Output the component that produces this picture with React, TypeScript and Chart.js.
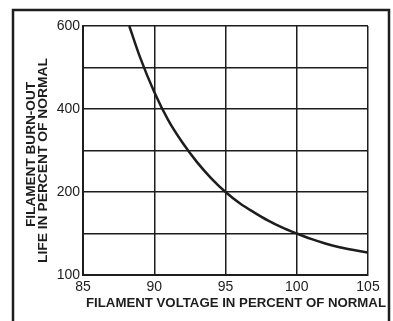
import React, { useEffect, useRef } from "react";
import { Chart, registerables } from "chart.js";

Chart.register(...registerables);

// Filament voltage (percent of normal) vs burn-out life (percent of normal)
const voltage = [88.25, 89, 90, 91, 92, 93, 94, 95, 96, 97, 98, 99, 100, 101, 102, 103, 104, 105];
const life = [600, 525, 441, 372, 318, 272, 233, 200, 173, 151, 131, 114, 100, 87, 76, 67, 60, 54];

const xTickValues = [85, 90, 95, 100, 105];
const yTickValues = [0, 200, 400, 600];
const yTickTexts = ["100", "200", "400", "600"];

const xTitle = "FILAMENT VOLTAGE IN PERCENT OF NORMAL";
const yTitleLines = ["FILAMENT BURN-OUT", "LIFE IN PERCENT OF NORMAL"];

const INK = "#1d1d1d";

function drawStretched(ctx: CanvasRenderingContext2D, text: string, width: number) {
  const w = ctx.measureText(text).width;
  const k = width / w;
  ctx.save();
  ctx.scale(k, 1);
  ctx.fillText(text, 0, 0);
  ctx.restore();
}

export default function App() {
  const ref = useRef<HTMLCanvasElement | null>(null);

  useEffect(() => {
    document.body.style.margin = "0";
    const canvas = ref.current;
    if (!canvas) return;

    const framePlugin = {
      id: "frameAndTitles",
      afterDraw(chart: any) {
        const ctx: CanvasRenderingContext2D = chart.ctx;
        ctx.save();
        ctx.strokeStyle = INK;
        ctx.lineWidth = 2.5;
        ctx.beginPath();
        ctx.moveTo(13, 321);
        ctx.lineTo(13, 10);
        ctx.lineTo(389, 10);
        ctx.lineTo(389, 321);
        ctx.stroke();

        ctx.fillStyle = INK;
        ctx.font = "bold 13px 'Liberation Sans', Arial, sans-serif";
        ctx.textAlign = "center";
        ctx.textBaseline = "middle";

        ctx.save();
        ctx.translate(236, 303);
        drawStretched(ctx, xTitle, 300);
        ctx.restore();

        const yCenters = [31.5, 43.5];
        const yWidths = [145, 205];
        const yMid = [154.5, 160.5];
        yTitleLines.forEach((line, i) => {
          ctx.save();
          ctx.translate(yCenters[i], yMid[i]);
          ctx.rotate(-Math.PI / 2);
          drawStretched(ctx, line, yWidths[i]);
          ctx.restore();
        });
        ctx.restore();
      },
    };

    const chart = new Chart(canvas, {
      type: "line",
      data: {
        datasets: [
          {
            data: voltage.map((v, i) => ({ x: v, y: life[i] })),
            borderColor: INK,
            borderWidth: 2.5,
            pointRadius: 0,
            fill: false,
            cubicInterpolationMode: "monotone",
          },
        ],
      },
      options: {
        responsive: false,
        animation: false,
        layout: { padding: { left: 14, right: 25, top: 26, bottom: 0 } },
        plugins: { legend: { display: false }, tooltip: { enabled: false } },
        scales: {
          x: {
            type: "linear",
            min: 85,
            max: 105,
            afterBuildTicks: (s: any) => {
              s.ticks = xTickValues.map((v) => ({ value: v }));
            },
            afterFit: (s: any) => {
              s.height = 46;
            },
            ticks: {
              color: INK,
              padding: 4,
              autoSkip: false,
              maxRotation: 0,
              font: { size: 14, family: "'Liberation Sans', Arial, sans-serif" },
              callback: (v: any) => String(v),
            },
            grid: { color: INK, lineWidth: 1.5, drawTicks: false },
            border: { color: INK, width: 2 },
          },
          y: {
            type: "linear",
            min: 0,
            max: 600,
            afterBuildTicks: (s: any) => {
              s.ticks = [0, 100, 200, 300, 400, 500, 600].map((v) => ({ value: v }));
            },
            afterFit: (s: any) => {
              s.width = 69;
            },
            ticks: {
              color: INK,
              padding: 3,
              autoSkip: false,
              font: { size: 14, family: "'Liberation Sans', Arial, sans-serif" },
              callback: (v: any) => {
                const idx = yTickValues.indexOf(Number(v));
                return idx >= 0 ? yTickTexts[idx] : "";
              },
            },
            grid: { color: INK, lineWidth: 1.5, drawTicks: false },
            border: { color: INK, width: 2 },
          },
        },
      },
      plugins: [framePlugin],
    } as any);

    return () => chart.destroy();
  }, []);

  return (
    <div style={{ width: 393, height: 321, background: "#ffffff" }}>
      <canvas ref={ref} width={393} height={321} style={{ display: "block" }} />
    </div>
  );
}
